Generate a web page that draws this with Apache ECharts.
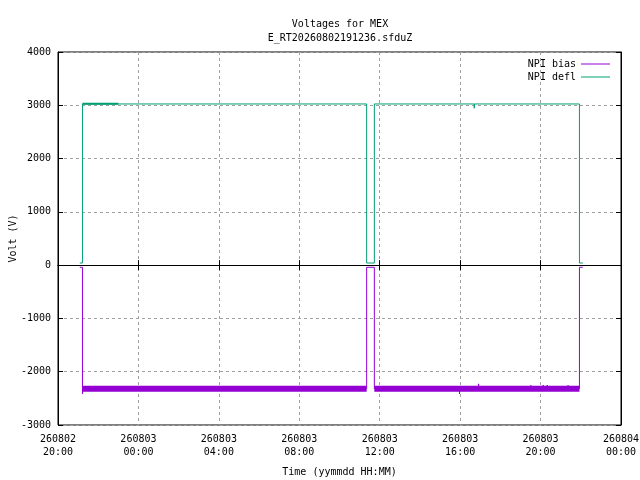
<!DOCTYPE html>
<html>
<head>
<meta charset="utf-8">
<script src="https://cdn.jsdelivr.net/npm/echarts@6/dist/echarts.min.js"></script>
<style>html,body{margin:0;padding:0;background:#fff}#c{width:640px;height:480px}</style>
</head>
<body>
<div id="c"></div>
<script>
// ---- data (times are UTC, 'MM-DD HH:MM' in 2026) ----
const biasTime = ['08-02 21:05','08-02 21:13','08-02 21:13','08-02 21:14','08-03 11:21','08-03 11:21','08-03 11:44','08-03 11:44',
  '08-03 15:58','08-03 15:58','08-03 15:59','08-03 16:55','08-03 16:55','08-03 16:56','08-03 19:31','08-03 19:31','08-03 19:32',
  '08-03 20:08','08-03 20:08','08-03 20:09','08-03 20:20','08-03 20:20','08-03 20:21','08-03 21:22','08-03 21:22','08-03 21:23',
  '08-03 21:56','08-03 21:56','08-03 22:06'];
const biasVolt = [-40,-40,-2415,-2320,-2320,-40,-40,-2320,
  -2320,-2415,-2320,-2320,-2228,-2320,-2320,-2255,-2320,
  -2320,-2250,-2320,-2320,-2250,-2320,-2320,-2255,-2320,
  -2320,-40,-40];
const deflTime = ['08-02 21:05','08-02 21:13','08-02 21:13','08-02 23:35','08-02 23:35','08-02 23:36','08-03 11:21','08-03 11:21',
  '08-03 11:44','08-03 11:44','08-03 16:42','08-03 16:42','08-03 16:43','08-03 17:08','08-03 17:08','08-03 17:09',
  '08-03 21:16','08-03 21:16','08-03 21:17','08-03 21:56','08-03 21:56','08-03 22:06'];
const deflVolt = [40,40,3025,3025,3005,3025,3025,40,
  40,3025,3025,2945,3025,3025,2995,3025,
  3025,2990,3025,3025,40,40];
// noisy bands (drawn as thick strokes around their mean level)
const biasBandStart = ['08-02 21:13','08-03 11:44'];
const biasBandEnd   = ['08-03 11:21','08-03 21:56'];
const biasBandLevel = -2318;
const deflBandStart = ['08-02 21:13'];
const deflBandEnd   = ['08-02 23:00'];
const deflBandLevel = 3030;
const xMin = '08-02 20:00', xMax = '08-04 00:00';
const yMin = -3000, yMax = 4000, yStep = 1000;
const xStepHours = 4;

function t(s){ return Date.parse('2026-' + s.replace(' ','T') + ':00Z'); }
function pad(n){ return (n<10?'0':'') + n; }
function fmt(v){
  const d = new Date(v);
  const yy = pad(d.getUTCFullYear()%100), mm = pad(d.getUTCMonth()+1), dd = pad(d.getUTCDate());
  return yy+mm+dd + '\n' + pad(d.getUTCHours()) + ':' + pad(d.getUTCMinutes());
}
const FONT = 'DejaVu Sans Mono';
const BIAS = '#9400d3', DEFL = '#009e73';
const txt = {fontFamily: FONT, fontSize: 10, color: '#000'};

const series = [
  {name:'NPI bias', type:'line', symbol:'none', color:BIAS, lineStyle:{width:1,color:BIAS}, animation:false,
   data: biasTime.map((s,i)=>[t(s), biasVolt[i]]), z:3},
  {name:'NPI defl', type:'line', symbol:'none', color:DEFL, lineStyle:{width:1,color:DEFL}, animation:false,
   data: deflTime.map((s,i)=>[t(s), deflVolt[i]]), z:3}
];
biasBandStart.forEach((s,i)=>series.push({name:'biasband'+i, type:'line', symbol:'none', animation:false,
  lineStyle:{width:6,color:BIAS,cap:'butt'}, data:[[t(s),biasBandLevel],[t(biasBandEnd[i]),biasBandLevel]], z:2}));
deflBandStart.forEach((s,i)=>series.push({name:'deflband'+i, type:'line', symbol:'none', animation:false,
  lineStyle:{width:2,color:DEFL,cap:'butt'}, data:[[t(s),deflBandLevel],[t(deflBandEnd[i]),deflBandLevel]], z:2}));

const gridLine = {show:true, lineStyle:{color:'#a0a0a0', type:[3,3], width:1}};
const xBase = {type:'value', min:t(xMin), max:t(xMax), interval:xStepHours*3600000};
const yBase = {type:'value', min:yMin, max:yMax, interval:yStep};

const chart = echarts.init(document.getElementById('c'), null, {renderer:'canvas'});
chart.setOption({
  animation:false,
  backgroundColor:'#fff',
  title:[
    {text:'Voltages for MEX', left:335, top:14, textAlign:'center', textStyle:Object.assign({fontWeight:'normal'},txt)},
    {text:'E_RT20260802191236.sfduZ', left:335, top:28, textAlign:'center', textStyle:Object.assign({fontWeight:'normal'},txt)}
  ],
  legend:{data:['NPI bias','NPI defl'], orient:'vertical', right:30, top:59, align:'right', icon:'rect', padding:0,
    itemWidth:29, itemHeight:1, itemGap:3, textStyle:txt, selectedMode:false},
  grid:{left:58, right:19, top:52, bottom:55, show:true, borderColor:'#000', borderWidth:1, containLabel:false, outerBoundsMode:'none'},
  xAxis:[
    Object.assign({}, xBase, {position:'bottom', name:'Time (yymmdd HH:MM)', nameLocation:'middle', nameGap:42,
      nameTextStyle:txt, nameMoveOverlap:false,
      axisLine:{show:true,lineStyle:{color:'#000'}}, axisTick:{show:true,inside:true,length:5,lineStyle:{color:'#000'}},
      axisLabel:Object.assign({formatter:fmt, margin:8, lineHeight:13, showMinLabel:true, showMaxLabel:true}, txt),
      splitLine:gridLine}),
    Object.assign({}, xBase, {position:'top', axisLine:{show:true,lineStyle:{color:'#000'}},
      axisTick:{show:true,inside:true,length:5,lineStyle:{color:'#000'}}, axisLabel:{show:false}, splitLine:{show:false}})
  ],
  yAxis:[
    Object.assign({}, yBase, {position:'left', name:'Volt (V)', nameLocation:'middle', nameGap:40, nameTextStyle:txt,
      nameMoveOverlap:false,
      axisLine:{show:true,lineStyle:{color:'#000'}}, axisTick:{show:true,inside:true,length:5,lineStyle:{color:'#000'}},
      axisLabel:Object.assign({margin:7, formatter:v=>String(v)}, txt), splitLine:gridLine}),
    Object.assign({}, yBase, {position:'right', axisLine:{show:true,lineStyle:{color:'#000'}},
      axisTick:{show:true,inside:true,length:5,lineStyle:{color:'#000'}}, axisLabel:{show:false}, splitLine:{show:false}})
  ],
  series: series
});
</script>
</body>
</html>
